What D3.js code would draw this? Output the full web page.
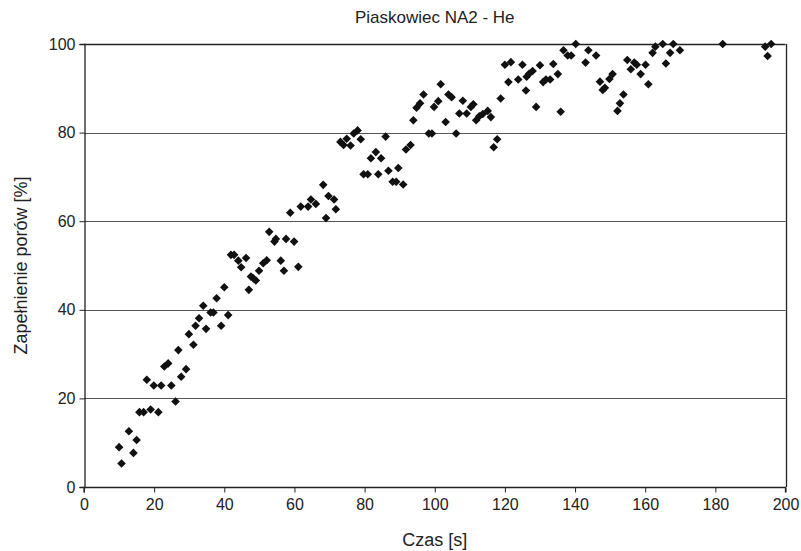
<!DOCTYPE html>
<html>
<head>
<meta charset="utf-8">
<script src="https://cdn.jsdelivr.net/npm/d3@7"></script>
<style>
  html, body { margin: 0; padding: 0; background: #fff; }
  svg { display: block; }
  text { font-family: "Liberation Sans Narrow", "Liberation Sans", Arial, sans-serif; fill: #222; }
</style>
</head>
<body>
<svg id="chart" width="801" height="551"></svg>
<script>
const title = "Piaskowiec NA2 - He";
const xLabel = "Czas [s]";
const yLabel = "Zapełnienie porów [%]";
const xTicks = [0, 20, 40, 60, 80, 100, 120, 140, 160, 180, 200];
const yTicks = [0, 20, 40, 60, 80, 100];

const timeValues = [
  10.0, 10.7, 12.8, 14.1, 15.0, 15.8, 17.0, 17.9, 19.0, 19.9,
  21.2, 22.0, 22.9, 24.0, 24.9, 26.1, 26.9, 27.7, 29.1, 29.9,
  31.2, 31.8, 32.8, 34.0, 34.8, 36.1, 36.9, 37.8, 39.1, 40.0,
  41.1, 41.9, 42.8, 44.0, 44.8, 46.2, 47.0, 47.6, 48.3, 49.0,
  49.9, 51.1, 52.1, 52.8, 54.3, 54.7, 56.1, 57.0, 57.6, 58.8,
  59.9, 61.1, 61.8, 63.9, 64.7, 66.1, 68.2, 69.0, 69.7, 71.3,
  71.8, 73.1, 74.0, 74.9, 76.0, 76.9, 78.0, 78.9, 79.7, 80.9,
  81.8, 83.2, 83.9, 84.7, 86.0, 86.8, 88.0, 89.0, 89.6, 91.0,
  91.8, 93.1, 93.9, 94.8, 95.8, 96.8, 98.3, 99.2, 99.8, 101.0,
  101.7, 103.1, 103.9, 104.8, 106.1, 107.0, 108.0, 109.1, 110.3, 111.0,
  111.8, 112.7, 113.7, 115.1, 116.0, 116.8, 117.8, 118.8, 120.0, 121.7,
  121.0, 123.8, 125.0, 126.0, 126.2, 126.9, 127.9, 128.9, 130.0, 130.9,
  131.7, 132.9, 133.8, 135.1, 135.9, 136.7, 137.9, 138.9, 140.2, 143.0,
  143.8, 146.0, 147.1, 147.9, 148.5, 149.8, 150.7, 152.1, 152.8, 153.8,
  154.9, 155.9, 156.9, 157.6, 158.7, 160.1, 160.9, 162.1, 162.9, 165.0,
  165.9, 167.1, 168.0, 169.9, 182.1, 194.2, 194.9, 195.9
];
const fillValues = [
  9.0, 5.3, 12.6, 7.7, 10.6, 16.9, 16.9, 24.2, 17.5, 22.9,
  16.9, 22.9, 27.2, 27.9, 22.9, 19.3, 30.9, 24.9, 26.6, 34.5,
  32.1, 36.4, 38.1, 40.9, 35.7, 39.4, 39.4, 42.6, 36.4, 45.1,
  38.8, 52.4, 52.4, 51.1, 49.6, 51.7, 44.5, 47.5, 47.1, 46.6,
  48.8, 50.5, 51.2, 57.6, 55.4, 56.0, 51.1, 48.8, 56.0, 61.9,
  55.4, 49.7, 63.3, 63.3, 64.9, 63.9, 68.2, 60.7, 65.7, 64.9,
  62.7, 77.9, 77.2, 78.6, 77.1, 79.8, 80.5, 78.5, 70.6, 70.6,
  74.2, 75.6, 70.6, 74.2, 79.1, 71.4, 68.9, 68.9, 72.0, 68.3,
  76.2, 77.2, 82.8, 85.6, 86.6, 88.6, 79.8, 79.8, 85.8, 87.1,
  90.9, 82.4, 88.6, 88.0, 79.8, 84.3, 87.2, 84.3, 85.8, 86.4,
  82.8, 83.7, 84.2, 84.9, 83.5, 76.7, 78.5, 87.7, 95.3, 95.9,
  91.4, 92.0, 95.3, 89.5, 92.6, 93.3, 93.9, 85.8, 95.2, 91.4,
  92.0, 92.0, 95.5, 93.2, 84.7, 98.6, 97.4, 97.4, 100.0, 95.8,
  98.6, 97.4, 91.5, 89.6, 90.1, 92.1, 93.2, 84.9, 86.6, 88.6,
  96.4, 94.3, 95.8, 95.3, 93.2, 95.3, 90.9, 98.0, 99.4, 100.0,
  95.6, 98.0, 100.0, 98.6, 100.0, 99.4, 97.3, 100.0
];

const data = timeValues.map((t, i) => ({ t, v: fillValues[i] }));

const svg = d3.select("#chart");
const m = { left: 84, right: 785.5, top: 44, bottom: 487 };

const x = d3.scaleLinear().domain([0, 200]).range([m.left, m.right]);
const y = d3.scaleLinear().domain([0, 100]).range([m.bottom, m.top]);

// Gridlines
svg.append("g")
  .selectAll("line")
  .data(yTicks.filter(d => d > 0 && d < 100))
  .join("line")
  .attr("x1", m.left).attr("x2", m.right)
  .attr("y1", d => Math.round(y(d)) + 0.5).attr("y2", d => Math.round(y(d)) + 0.5)
  .attr("stroke", "#555").attr("stroke-width", 1);

// Top & right border
svg.append("line")
  .attr("x1", m.left).attr("x2", m.right)
  .attr("y1", Math.round(y(100)) + 0.5).attr("y2", Math.round(y(100)) + 0.5)
  .attr("stroke", "#222").attr("stroke-width", 1.3);
svg.append("line")
  .attr("x1", Math.round(m.right) + 0.5).attr("x2", Math.round(m.right) + 0.5)
  .attr("y1", m.top).attr("y2", m.bottom)
  .attr("stroke", "#222").attr("stroke-width", 1.3);

// Axes
const xAxis = d3.axisBottom(x).tickValues(xTicks).tickSize(5).tickPadding(6).tickFormat(d3.format("d"));
const yAxis = d3.axisLeft(y).tickValues(yTicks).tickSize(5).tickPadding(4).tickFormat(d3.format("d"));

const gx = svg.append("g").attr("transform", `translate(0,${Math.round(m.bottom) + 0.5})`).call(xAxis);
const gy = svg.append("g").attr("transform", `translate(${Math.round(m.left) + 0.5},0)`).call(yAxis);

[gx, gy].forEach(g => {
  g.select(".domain").attr("stroke", "#222").attr("stroke-width", 1.3);
  g.selectAll(".tick line").attr("stroke", "#222");
  g.selectAll(".tick text").attr("font-size", 16).attr("fill", "#222")
    .style("font-family", "'Liberation Sans Narrow', 'Liberation Sans', Arial, sans-serif");
});
gx.select(".domain").attr("d", `M${m.left},5V0H${m.right}V5`);

// Diamonds
const r = 4.3;
svg.append("g")
  .selectAll("path")
  .data(data)
  .join("path")
  .attr("d", d => {
    const cx = x(d.t), cy = y(d.v);
    return `M${cx},${cy - r}L${cx + r},${cy}L${cx},${cy + r}L${cx - r},${cy}Z`;
  })
  .attr("fill", "#111");

// Title & labels
svg.append("text")
  .attr("x", (m.left + m.right) / 2).attr("y", 23)
  .attr("text-anchor", "middle").attr("font-size", 17)
  .text(title);

svg.append("text")
  .attr("x", (m.left + m.right) / 2).attr("y", 546)
  .attr("text-anchor", "middle").attr("font-size", 18)
  .text(xLabel);

svg.append("text")
  .attr("transform", `translate(27,${(m.top + m.bottom) / 2}) rotate(-90)`)
  .attr("text-anchor", "middle").attr("font-size", 18)
  .text(yLabel);
</script>
</body>
</html>
